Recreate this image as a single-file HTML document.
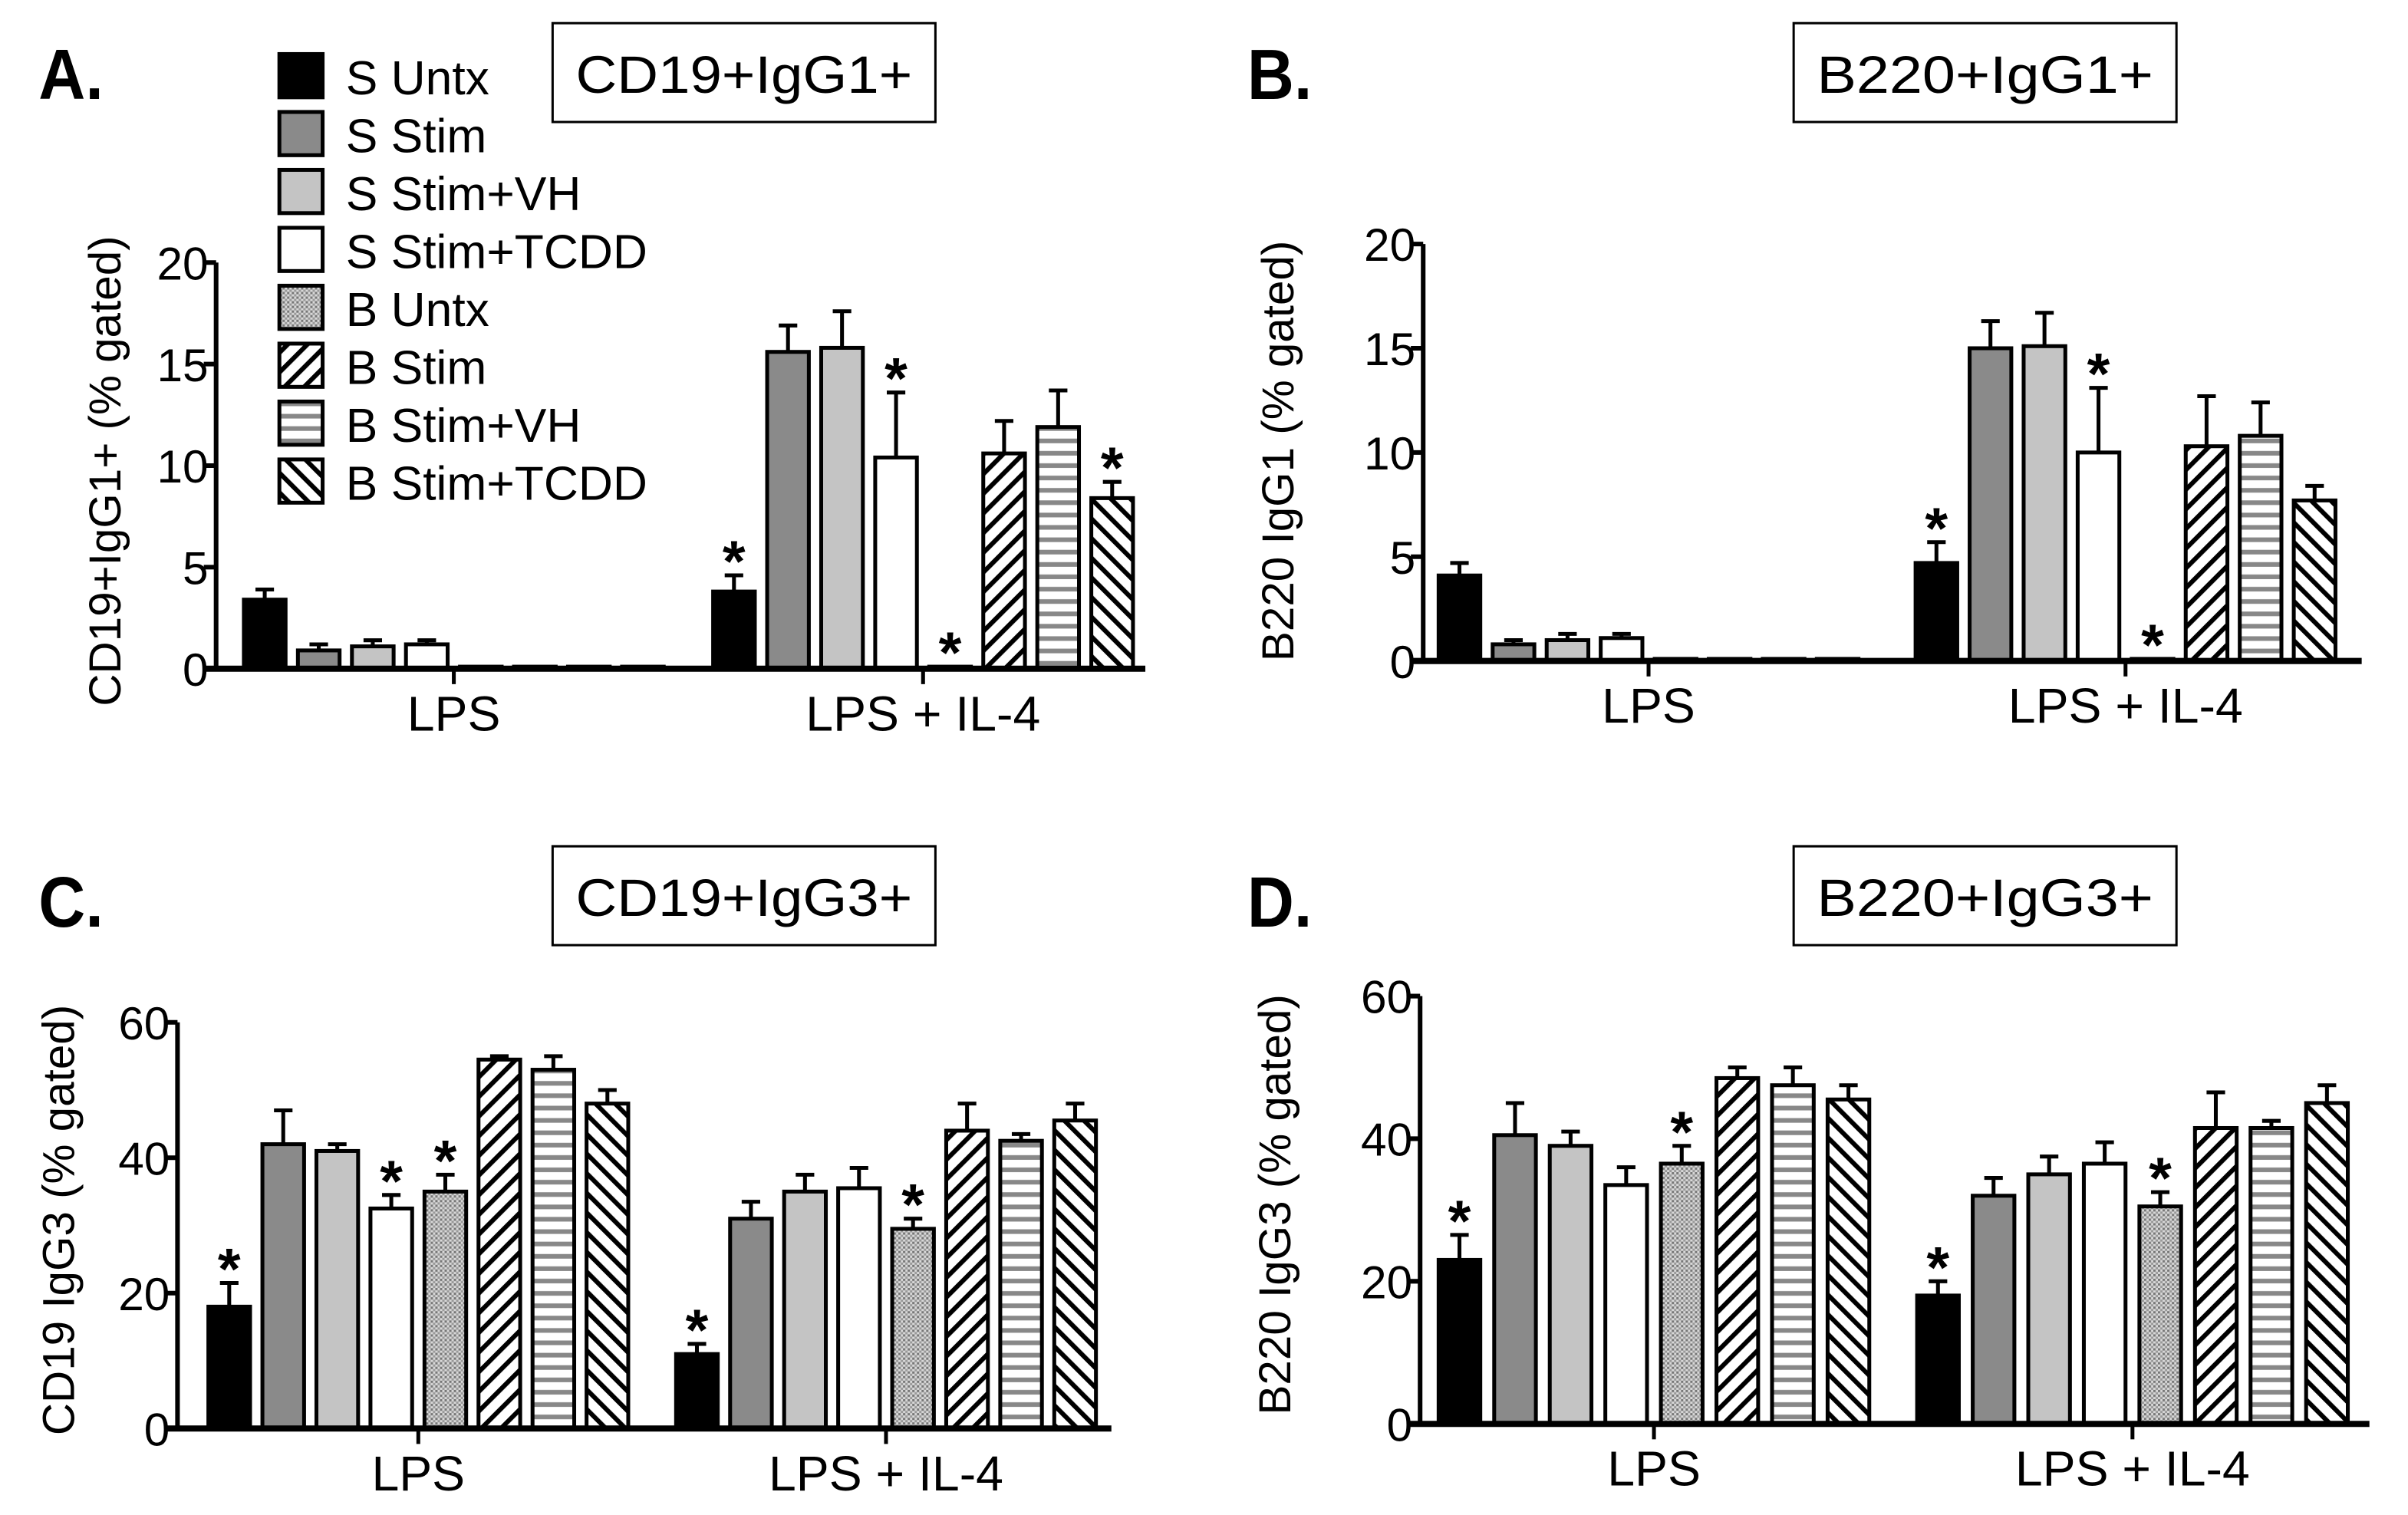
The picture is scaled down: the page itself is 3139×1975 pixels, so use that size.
<!DOCTYPE html>
<html><head><meta charset="utf-8"><style>
html,body{margin:0;padding:0;background:#fff;}
svg{display:block;}
text{font-family:"Liberation Sans",sans-serif;fill:#000;}
</style></head><body>
<svg id="fig" width="3139" height="1975" viewBox="0 0 1560 981" preserveAspectRatio="none" xmlns="http://www.w3.org/2000/svg">
<defs>
<pattern id="p-dots" width="3" height="3" patternUnits="userSpaceOnUse"><rect width="3" height="3" fill="#d8d8d8"/><rect width="1.5" height="1.5" fill="#777"/><rect x="1.5" y="1.5" width="1.5" height="1.5" fill="#999"/></pattern>
<pattern id="p-fwd" width="9" height="9" patternUnits="userSpaceOnUse" patternTransform="rotate(45)"><rect width="9" height="9" fill="#fff"/><rect width="3" height="9" fill="#000"/></pattern>
<pattern id="p-horz" width="8" height="8" patternUnits="userSpaceOnUse"><rect width="8" height="8" fill="#fff"/><rect y="4" width="8" height="3" fill="#888"/></pattern>
<pattern id="p-back" width="9" height="9" patternUnits="userSpaceOnUse" patternTransform="rotate(-45)"><rect width="9" height="9" fill="#fff"/><rect width="3" height="9" fill="#000"/></pattern>
</defs>
</svg>
<script>
// ---- data ----
const categories = ["LPS", "LPS + IL-4"];
const seriesNames = ["S Untx","S Stim","S Stim+VH","S Stim+TCDD","B Untx","B Stim","B Stim+VH","B Stim+TCDD"];
const seriesFills = ["#000","#8a8a8a","#c4c4c4","#fff","url(#p-dots)","url(#p-fwd)","url(#p-horz)","url(#p-back)"];
// Panel A: CD19+IgG1+
const aLPS = [3.4,0.9,1.1,1.2,0.1,0.1,0.1,0.1];
const aLPSerr = [3.9,1.2,1.4,1.4,0.1,0.1,0.1,0.1];
const aIL4 = [3.8,15.6,15.8,10.4,0.1,10.6,11.9,8.4];
const aIL4err = [4.6,16.9,17.6,13.6,0.1,12.2,13.7,9.2];
const aStarsLPS = [0,0,0,0,0,0,0,0];
const aStarsIL4 = [1,0,0,1,1,0,0,1];
// Panel B: B220+IgG1+
const bLPS = [4.1,0.8,1.0,1.1,0.1,0.1,0.1,0.1];
const bLPSerr = [4.7,1.0,1.3,1.3,0.1,0.1,0.1,0.1];
const bIL4 = [4.7,15.0,15.1,10.0,0.1,10.3,10.8,7.7];
const bIL4err = [5.7,16.3,16.7,13.1,0.1,12.7,12.4,8.4];
const bStarsLPS = [0,0,0,0,0,0,0,0];
const bStarsIL4 = [1,0,0,1,1,0,0,0];
// Panel C: CD19+IgG3+
const cLPS = [18,42,41,32.5,35,54.5,53,48];
const cLPSerr = [21.5,47,42,34.5,37.5,55,55,50];
const cIL4 = [11,31,35,35.5,29.5,44,42.5,45.5];
const cIL4err = [12.5,33.5,37.5,38.5,31,48,43.5,48];
const cStarsLPS = [1,0,0,1,1,0,0,0];
const cStarsIL4 = [1,0,0,0,1,0,0,0];
// Panel D: B220+IgG3+
const dLPS = [23,40.5,39,33.5,36.5,48.5,47.5,45.5];
const dLPSerr = [26.5,45,41,36,39,50,50,47.5];
const dIL4 = [18,32,35,36.5,30.5,41.5,41.5,45];
const dIL4err = [20,34.5,37.5,39.5,32.5,46.5,42.5,47.5];
const dStarsLPS = [1,0,0,0,1,0,0,0];
const dStarsIL4 = [1,0,0,0,1,0,0,0];
const ticks20 = [0,5,10,15,20];
const ticks60 = [0,20,40,60];

const NS="http://www.w3.org/2000/svg";
const svg=document.getElementById('fig');
function mk(tag,attrs,parent){const e=document.createElementNS(NS,tag);for(const k in attrs)e.setAttribute(k,attrs[k]);(parent||svg).appendChild(e);return e;}
function txt(s,attrs,parent){const e=mk('text',attrs,parent);e.textContent=s;return e;}

function panel(cfg){
  const g=mk('g',{});
  
  
  const y=v=>cfg.y0-(v/cfg.ymax)*(cfg.y0-cfg.y1);
  const x=(grp,i)=>cfg.gx[grp]+i*cfg.step;
  const L=txt(cfg.letter,{x:cfg.lx,y:cfg.ly,'font-size':46,'font-weight':'bold',textLength:42,lengthAdjust:'spacingAndGlyphs'},g);
  
  
  const tb=mk('g',{},g);
  
  
  mk('rect',{x:cfg.bx,y:cfg.by,width:248,height:64,fill:'#fff',stroke:'#000','stroke-width':1.5},tb);
  txt(cfg.title,{x:cfg.bx+124,y:cfg.by+45,'font-size':34,'text-anchor':'middle',textLength:218,lengthAdjust:'spacingAndGlyphs'},tb);
  const groups=[[cfg.v[0],cfg.e[0],cfg.s[0]],[cfg.v[1],cfg.e[1],cfg.s[1]]];
  groups.forEach((gr,gi)=>{
    gr[0].forEach((v,i)=>{
      const bx=x(gi,i), top=y(v), et=y(gr[1][i]), cx=bx+cfg.bw/2;
      if(gr[1][i]>v){
        const eb=mk('path',{d:`M${cx} ${top}V${et}M${cx-6} ${et}H${cx+6}`,stroke:'#000','stroke-width':2.5,fill:'none'},g);
        
        
      }
      const r=mk('rect',{x:bx,y:top,width:cfg.bw,height:Math.max(cfg.y0-top,1.5),fill:seriesFills[i],stroke:'#000','stroke-width':2.5},g);
      
      
      if(gr[2][i]){
        const st=txt('*',{x:cx,y:et+4,'font-size':38,'font-weight':'bold','text-anchor':'middle'},g);
        
        
      }
    });
  });
  const ax=mk('g',{},g);
  
  
  mk('line',{x1:cfg.ax,y1:cfg.y1,x2:cfg.ax,y2:cfg.y0,stroke:'#000','stroke-width':3},ax);
  cfg.ticks.forEach(t=>{
    mk('line',{x1:cfg.ax-8,y1:y(t),x2:cfg.ax,y2:y(t),stroke:'#000','stroke-width':3},ax);
    const tl=txt(String(t),{x:cfg.ax-5,y:y(t)+11,'font-size':30,'text-anchor':'end'},ax);
    
    
  });
  const xa=mk('g',{},g);
  
  
  mk('line',{x1:cfg.ax-8,y1:cfg.y0,x2:cfg.axEnd,y2:cfg.y0,stroke:'#000','stroke-width':4},xa);
  categories.forEach((c,gi)=>{
    const cx=x(gi,0)+(cfg.step*7+cfg.bw)/2;
    mk('line',{x1:cx,y1:cfg.y0,x2:cx,y2:cfg.y0+10,stroke:'#000','stroke-width':2.5},xa);
    const cl=txt(c,{x:cx,y:cfg.y0+40,'font-size':32,'text-anchor':'middle'},xa);
    
    
  });
  const yt=txt(cfg.ytitle,{x:0,y:0,'font-size':29,'text-anchor':'middle',transform:`translate(${cfg.ytx},${cfg.yty}) rotate(-90)`},g);
  
  
}

panel({name:'panel-a',letter:'A.',lx:25,ly:64,title:'CD19+IgG1+',bx:358,by:15,ax:140,axEnd:742,y0:433,y1:170,ymax:20,ticks:ticks20,gx:[158,462],step:35,bw:27,
  v:[aLPS,aIL4],e:[aLPSerr,aIL4err],s:[aStarsLPS,aStarsIL4],ytitle:'CD19+IgG1+ (% gated)',ytx:78,yty:305});
panel({name:'panel-b',letter:'B.',lx:808,ly:64,title:'B220+IgG1+',bx:1162,by:15,ax:922,axEnd:1530,y0:428,y1:158,ymax:20,ticks:ticks20,gx:[932,1241],step:35,bw:27,
  v:[bLPS,bIL4],e:[bLPSerr,bIL4err],s:[bStarsLPS,bStarsIL4],ytitle:'B220 IgG1 (% gated)',ytx:838,yty:292});
panel({name:'panel-c',letter:'C.',lx:25,ly:600,title:'CD19+IgG3+',bx:358,by:548,ax:115,axEnd:720,y0:925,y1:662,ymax:60,ticks:ticks60,gx:[135,438],step:35,bw:27,
  v:[cLPS,cIL4],e:[cLPSerr,cIL4err],s:[cStarsLPS,cStarsIL4],ytitle:'CD19 IgG3 (% gated)',ytx:48,yty:790});
panel({name:'panel-d',letter:'D.',lx:808,ly:600,title:'B220+IgG3+',bx:1162,by:548,ax:920,axEnd:1535,y0:922,y1:645,ymax:60,ticks:ticks60,gx:[932,1242],step:36,bw:27,
  v:[dLPS,dIL4],e:[dLPSerr,dIL4err],s:[dStarsLPS,dStarsIL4],ytitle:'B220 IgG3 (% gated)',ytx:836,yty:780});

const lg=mk('g',{});


seriesNames.forEach((n,i)=>{
  const e=mk('g',{},lg);
  
  
  const ty=35+i*37.5;
  mk('rect',{x:181,y:ty,width:28,height:28,fill:seriesFills[i],stroke:'#000','stroke-width':2.5},e);
  txt(n,{x:224,y:ty+26,'font-size':31},e);
});
</script>
</body></html>
